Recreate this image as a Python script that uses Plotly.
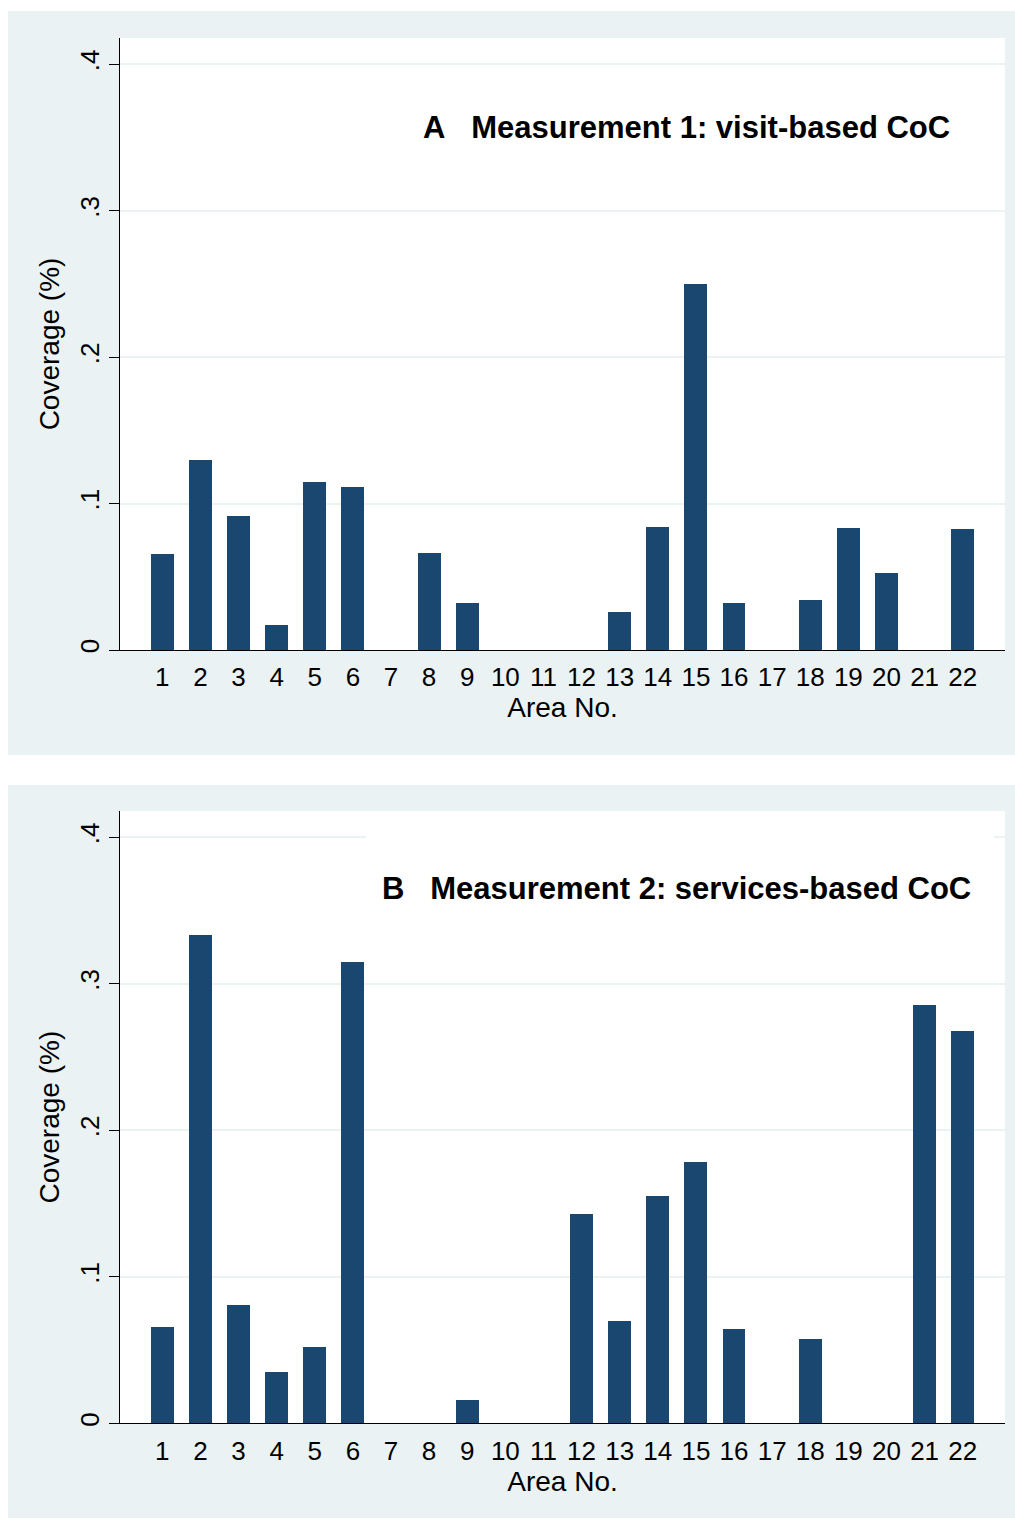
import plotly.graph_objects as go

# ---- data ----
areas = list(range(1, 23))
area_labels = [str(a) for a in areas]
coverage_visit = [0.0655, 0.130, 0.0917, 0.0173, 0.1147, 0.1113, 0.0, 0.0664, 0.0319, 0.0, 0.0,
                  0.0, 0.0257, 0.0837, 0.2498, 0.0321, 0.0, 0.0341, 0.0833, 0.0523, 0.0, 0.0824]
coverage_services = [0.0658, 0.3335, 0.0806, 0.0348, 0.0523, 0.3151, 0.0, 0.0, 0.0157, 0.0, 0.0,
                     0.143, 0.0697, 0.1555, 0.1783, 0.0644, 0.0, 0.0578, 0.0, 0.0, 0.2857, 0.268]
y_tickvals = [0, 0.1, 0.2, 0.3, 0.4]
y_ticktext = ["0", ".1", ".2", ".3", ".4"]
panel_titles = ["A\u00a0\u00a0\u00a0Measurement 1: visit-based CoC",
                "B\u00a0\u00a0\u00a0Measurement 2: services-based CoC"]
x_title = "Area No."
y_title = "Coverage (%)"

# ---- styling ----
W, H = 1015, 1521
BAR = "#1A476F"
PANEL_BG = "#EAF2F3"
GRID = "#EAF2F3"
FONT = "Liberation Sans, Arial, sans-serif"

xdom = [120 / W, 1005 / W]
ydomA = [1 - 650 / H, 1 - 38 / H]
ydomB = [1 - 1423.3 / H, 1 - 811 / H]

fig = go.Figure()
fig.add_trace(go.Bar(x=areas, y=coverage_visit, width=0.6, marker=dict(color=BAR, line=dict(width=0)),
                     xaxis="x", yaxis="y", showlegend=False, hoverinfo="x+y"))
fig.add_trace(go.Bar(x=areas, y=coverage_services, width=0.6, marker=dict(color=BAR, line=dict(width=0)),
                     xaxis="x2", yaxis="y2", showlegend=False, hoverinfo="x+y"))


def xaxis_cfg(anchor):
    return dict(domain=xdom, anchor=anchor, range=[-0.11, 23.11], tickmode="array",
                tickvals=areas, ticktext=area_labels, showline=True, linecolor="#000000", linewidth=1,
                showgrid=False, zeroline=False, ticks="outside", ticklen=4, tickcolor="rgba(0,0,0,0)",
                tickfont=dict(family=FONT, size=26, color="#000000"),
                title=dict(text=x_title, font=dict(family=FONT, size=28, color="#000000"), standoff=6),
                automargin=False, fixedrange=True)


def yaxis_cfg(anchor, dom):
    return dict(domain=dom, anchor=anchor, range=[0, 0.418], tickmode="array",
                tickvals=y_tickvals, ticktext=y_ticktext, tickangle=-90,
                ticks="outside", ticklen=10, tickwidth=1, tickcolor="#000000",
                showline=True, linecolor="#000000", linewidth=1,
                showgrid=True, gridcolor=GRID, gridwidth=2, zeroline=False,
                tickfont=dict(family=FONT, size=26, color="#000000"),
                title=dict(text=y_title, font=dict(family=FONT, size=28, color="#000000"), standoff=6),
                automargin=False, fixedrange=True)


shapes = [
    # outer panel backgrounds
    dict(type="rect", xref="paper", yref="paper", x0=8 / W, x1=1, y0=1 - 755 / H, y1=1 - 11 / H,
         fillcolor=PANEL_BG, line=dict(width=0), layer="below"),
    dict(type="rect", xref="paper", yref="paper", x0=8 / W, x1=1, y0=1 - 1518 / H, y1=1 - 785 / H,
         fillcolor=PANEL_BG, line=dict(width=0), layer="below"),
    # white plot regions
    dict(type="rect", xref="x domain", yref="y domain", x0=0, x1=1, y0=0, y1=1,
         fillcolor="white", line=dict(width=0), layer="below"),
    dict(type="rect", xref="x2 domain", yref="y2 domain", x0=0, x1=1, y0=0, y1=1,
         fillcolor="white", line=dict(width=0), layer="below"),
    # white title box in panel B hiding part of the top gridline
    dict(type="rect", xref="x2 domain", yref="y2 domain", x0=(366 - 120) / 885, x1=(994 - 120) / 885,
         y0=(1423.3 - 848) / 612.3, y1=(1423.3 - 828) / 612.3,
         fillcolor="white", line=dict(width=0), layer="above"),
]

annotations = [
    dict(text="<b>" + panel_titles[0] + "</b>", xref="paper", yref="paper", x=952 / W, y=1 - 127 / H,
         xanchor="right", yanchor="middle", showarrow=False,
         font=dict(family=FONT, size=31, color="#000000")),
    dict(text="<b>" + panel_titles[1] + "</b>", xref="paper", yref="paper", x=973 / W, y=1 - 888 / H,
         xanchor="right", yanchor="middle", showarrow=False,
         font=dict(family=FONT, size=31, color="#000000")),
]

fig.update_layout(
    width=W, height=H, autosize=False,
    margin=dict(l=0, r=0, t=0, b=0, pad=0),
    paper_bgcolor="white", plot_bgcolor="rgba(0,0,0,0)",
    font=dict(family=FONT, color="#000000"),
    xaxis=xaxis_cfg("y"), yaxis=yaxis_cfg("x", ydomA),
    xaxis2=xaxis_cfg("y2"), yaxis2=yaxis_cfg("x2", ydomB),
    shapes=shapes, annotations=annotations, bargap=0, showlegend=False,
)

fig.write_html("out.html", config={"displayModeBar": False},
               post_script="document.body.style.margin='0';document.body.style.overflow='hidden';")
